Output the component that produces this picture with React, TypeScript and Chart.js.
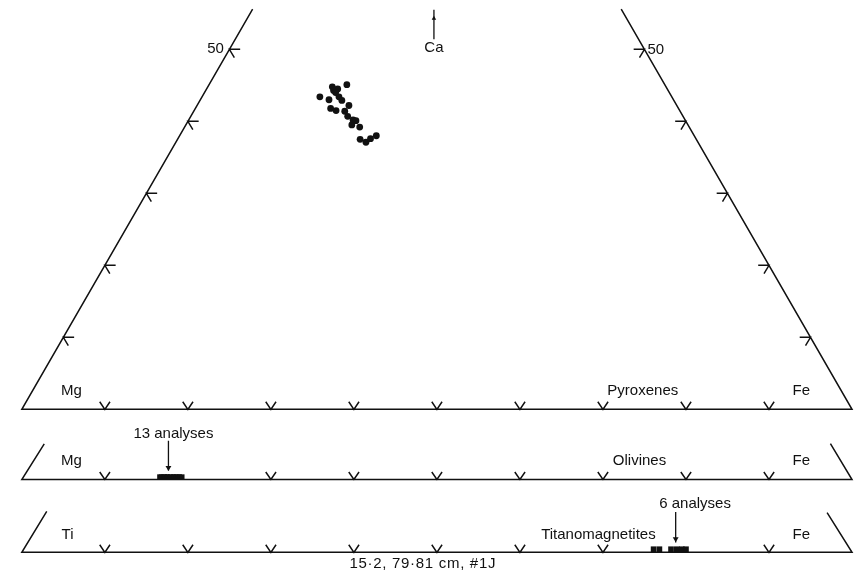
import React, { useEffect, useRef } from "react";
import { Chart, registerables } from "chart.js";

Chart.register(...registerables);

// ---- Data (percent) ----
// Pyroxene analyses: Ca (Wo) and Fe (Fs); Mg = 100 - Ca - Fe
const PYX_CA = [45.1, 43.4, 43.0, 44.3, 44.5, 44.0, 43.4, 42.9, 42.2, 41.8, 41.5, 41.4, 40.7, 40.2, 39.5, 40.1, 39.2, 37.5, 37.1, 37.6, 38.0, 44.8];
const PYX_FE = [16.6, 14.2, 15.5, 15.4, 15.8, 15.8, 16.5, 17.1, 18.3, 16.3, 17.1, 18.2, 18.9, 19.8, 20.0, 20.2, 21.1, 22.0, 22.9, 23.2, 23.7, 15.0];
// Olivine analyses (13): Fe/(Fe+Mg) %
const OLIVINE_FE = [16.6, 16.8, 17.1, 17.2, 17.5, 17.6, 17.9, 18.2, 18.3, 18.6, 18.8, 19.0, 19.3];
// Titanomagnetite analyses (6): Fe/(Fe+Ti) %
const TITANO_FE = [76.1, 76.8, 78.2, 78.9, 79.5, 80.0];

// Tick values
const BASE_TICKS = [10, 20, 30, 40, 50, 60, 70, 80, 90];
const CA_TICKS = [10, 20, 30, 40, 50];
const OLIVINE_TICKS = [10, 30, 40, 50, 60, 70, 80, 90];
const TITANO_TICKS = [10, 20, 30, 40, 50, 60, 70, 90];
const CA_TICK_LABEL = "50";

// ---- Layout (data units: x = Fe + Ca/2, y = Ca) ----
const X_MIN = -2.148;
const X_MAX = 100.24;
const Y_MIN = -23.01;
const Y_MAX = 56.3;
const CA_TOP = 55.6;
const OLIVINE_BASE = -9.75;
const TITANO_BASE = -19.86;
const MARK_LIFT = 0.38;

const INK = "#111111";
const FONT = '15px "Liberation Sans", Arial, Helvetica, sans-serif';

type P = { x: number; y: number };
const GAP: P = { x: NaN, y: NaN };

function buildFrame(): P[] {
  const lines: P[][] = [];
  // pyroxene quadrilateral
  lines.push([{ x: CA_TOP / 2, y: CA_TOP }, { x: 0, y: 0 }, { x: 100, y: 0 }, { x: 100 - CA_TOP / 2, y: CA_TOP }]);
  const vTick = (t: number, b: number) => [{ x: t - 0.62, y: b + 1.05 }, { x: t, y: b }, { x: t + 0.62, y: b + 1.05 }];
  BASE_TICKS.forEach((t) => lines.push(vTick(t, 0)));
  CA_TICKS.forEach((c) => {
    const lx = c / 2;
    lines.push([{ x: lx + 1.3, y: c }, { x: lx, y: c }, { x: lx + 0.6, y: c - 1.15 }]);
    const rx = 100 - c / 2;
    lines.push([{ x: rx - 1.3, y: c }, { x: rx, y: c }, { x: rx - 0.6, y: c - 1.15 }]);
  });
  // olivine strip
  lines.push([{ x: 2.7, y: OLIVINE_BASE + 4.95 }, { x: 0, y: OLIVINE_BASE }, { x: 100, y: OLIVINE_BASE }, { x: 97.4, y: OLIVINE_BASE + 5.0 }]);
  OLIVINE_TICKS.forEach((t) => lines.push(vTick(t, OLIVINE_BASE)));
  // titanomagnetite strip
  lines.push([{ x: 3.0, y: TITANO_BASE + 5.7 }, { x: 0, y: TITANO_BASE }, { x: 100, y: TITANO_BASE }, { x: 97.0, y: TITANO_BASE + 5.5 }]);
  TITANO_TICKS.forEach((t) => lines.push(vTick(t, TITANO_BASE)));
  const out: P[] = [];
  lines.forEach((l) => {
    out.push(...l);
    out.push(GAP);
  });
  return out;
}

// arrows: [x, yFrom, yTo]
const ARROWS: [number, number, number][] = [
  [49.64, 51.4, 55.5],
  [17.66, -4.38, -8.5],
  [78.76, -14.25, -18.5],
];
const ARROW_HEADS_UP: P[] = [{ x: 49.64, y: 54.3 }];
const ARROW_HEADS_DOWN: P[] = [{ x: 17.66, y: -8.1 }, { x: 78.76, y: -18.0 }];

const LABELS: { t: string; x: number; y: number; sp?: number }[] = [
  { t: "Ca", x: 49.64, y: 50.27 },
  { t: CA_TICK_LABEL, x: 23.33, y: 50.0 },
  { t: CA_TICK_LABEL, x: 76.37, y: 49.9 },
  { t: "Mg", x: 5.97, y: 2.6 },
  { t: "Pyroxenes", x: 74.8, y: 2.6 },
  { t: "Fe", x: 93.9, y: 2.6 },
  { t: "13 analyses", x: 18.26, y: -3.42 },
  { t: "Mg", x: 5.97, y: -7.12 },
  { t: "Olivines", x: 74.4, y: -7.12 },
  { t: "Fe", x: 93.9, y: -7.12 },
  { t: "6 analyses", x: 81.1, y: -13.08 },
  { t: "Ti", x: 5.5, y: -17.4 },
  { t: "Titanomagnetites", x: 69.45, y: -17.4 },
  { t: "Fe", x: 93.9, y: -17.4 },
  { t: "15·2, 79·81 cm, #1J", x: 48.3, y: -21.5, sp: 0.7 },
];

const labelPlugin = {
  id: "labels",
  afterDatasetsDraw(chart: any) {
    const { ctx, scales } = chart;
    ctx.save();
    ctx.font = FONT;
    ctx.fillStyle = INK;
    ctx.textAlign = "center";
    ctx.textBaseline = "middle";
    LABELS.forEach((l) => {
      (ctx as any).letterSpacing = (l.sp || 0) + "px";
      ctx.fillText(l.t, scales.x.getPixelForValue(l.x), scales.y.getPixelForValue(l.y));
    });
    ctx.restore();
  },
};

export default function App() {
  const ref = useRef<HTMLCanvasElement>(null);
  useEffect(() => {
    const pyx = PYX_CA.map((ca, i) => ({ x: PYX_FE[i] + ca / 2, y: ca }));
    const oliv = OLIVINE_FE.map((fe) => ({ x: fe, y: OLIVINE_BASE + MARK_LIFT }));
    const tit = TITANO_FE.map((fe) => ({ x: fe, y: TITANO_BASE + MARK_LIFT + 0.05 }));
    const arrowPts: P[] = [];
    ARROWS.forEach(([x, a, b]) => {
      arrowPts.push({ x, y: a }, { x, y: b }, GAP);
    });
    const chart = new Chart(ref.current as HTMLCanvasElement, {
      type: "scatter",
      data: {
        datasets: [
          { data: buildFrame(), showLine: true, borderColor: INK, borderWidth: 1.5, pointRadius: 0, spanGaps: false } as any,
          { data: arrowPts, showLine: true, borderColor: INK, borderWidth: 1.3, pointRadius: 0, spanGaps: false } as any,
          { data: ARROW_HEADS_UP, pointStyle: "triangle", pointRadius: 2.6, backgroundColor: INK, borderColor: INK, borderWidth: 0 },
          { data: ARROW_HEADS_DOWN, pointStyle: "triangle", rotation: 180, pointRadius: 3.4, backgroundColor: INK, borderColor: INK, borderWidth: 0 } as any,
          { data: pyx, pointRadius: 3.4, backgroundColor: INK, borderWidth: 0 },
          { data: oliv, pointStyle: "rect", pointRadius: 3.5, backgroundColor: INK, borderWidth: 0 },
          { data: tit, pointStyle: "rect", pointRadius: 4.0, backgroundColor: INK, borderWidth: 0 },
        ],
      },
      options: {
        responsive: false,
        animation: false,
        events: [],
        layout: { padding: 0 },
        plugins: { legend: { display: false }, tooltip: { enabled: false } },
        scales: {
          x: { type: "linear", min: X_MIN, max: X_MAX, display: false },
          y: { type: "linear", min: Y_MIN, max: Y_MAX, display: false },
        },
      },
      plugins: [labelPlugin],
    });
    return () => chart.destroy();
  }, []);
  return (
    <div style={{ position: "absolute", left: 0, top: 0, width: 858, height: 579, background: "#fff" }}>
      <canvas ref={ref} width={858} height={579} style={{ display: "block", width: 858, height: 579 }} />
    </div>
  );
}
